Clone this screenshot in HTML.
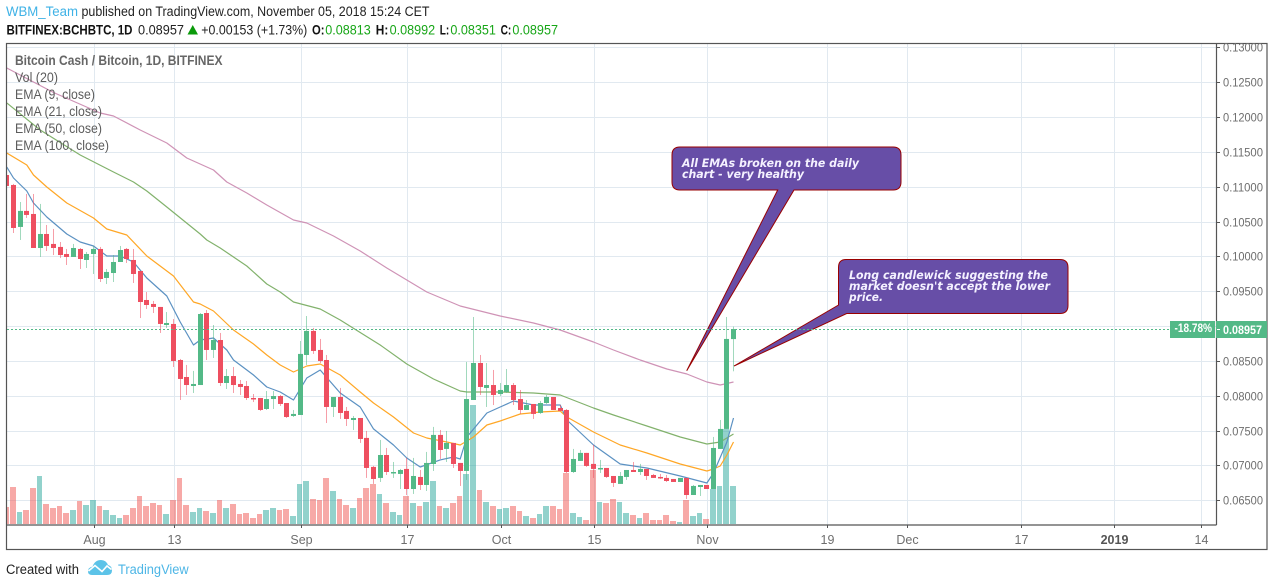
<!DOCTYPE html>
<html lang="en">
<head>
<meta charset="utf-8">
<title>BCHBTC daily chart</title>
<style>
html,body{margin:0;padding:0;background:#fff;overflow:hidden}
svg{display:block;font-family:"Liberation Sans",sans-serif}
</style>
</head>
<body>
<svg id="chart" width="1274" height="587" viewBox="0 0 1274 587" xmlns="http://www.w3.org/2000/svg">
  <defs><clipPath id="pane"><rect x="7" y="44" width="1209" height="481"/></clipPath></defs>
  <rect width="1274" height="587" fill="#fff"/>

  <g font-size="13.5">
    <text x="6" y="16" fill="#3fb2e6" textLength="72" lengthAdjust="spacingAndGlyphs">WBM_Team</text>
    <text x="81.5" y="16" fill="#222" textLength="348" lengthAdjust="spacingAndGlyphs">published on TradingView.com, November 05, 2018 15:24 CET</text>
    <text x="6.5" y="34.5" fill="#111" font-weight="bold" textLength="126" lengthAdjust="spacingAndGlyphs">BITFINEX:BCHBTC, 1D</text>
    <text x="138" y="34.5" fill="#222" textLength="46" lengthAdjust="spacingAndGlyphs">0.08957</text>
    <polygon points="187.5,34.5 198,34.5 192.75,25" fill="#0a9a0a"/>
    <text x="201.3" y="34.5" fill="#222" textLength="106" lengthAdjust="spacingAndGlyphs">+0.00153 (+1.73%)</text>
    <text x="312" y="34.5" fill="#111" font-weight="bold" textLength="12.5" lengthAdjust="spacingAndGlyphs">O:</text>
    <text x="325.3" y="34.5" fill="#17a617" textLength="45.5" lengthAdjust="spacingAndGlyphs">0.08813</text>
    <text x="375.8" y="34.5" fill="#111" font-weight="bold" textLength="12.5" lengthAdjust="spacingAndGlyphs">H:</text>
    <text x="389.6" y="34.5" fill="#17a617" textLength="45.5" lengthAdjust="spacingAndGlyphs">0.08992</text>
    <text x="439.7" y="34.5" fill="#111" font-weight="bold" textLength="9.5" lengthAdjust="spacingAndGlyphs">L:</text>
    <text x="450.4" y="34.5" fill="#17a617" textLength="45.5" lengthAdjust="spacingAndGlyphs">0.08351</text>
    <text x="500.6" y="34.5" fill="#111" font-weight="bold" textLength="10.7" lengthAdjust="spacingAndGlyphs">C:</text>
    <text x="512.4" y="34.5" fill="#17a617" textLength="45.6" lengthAdjust="spacingAndGlyphs">0.08957</text>
  </g>

  <g id="gridLayer"></g>
  <g id="plotLayer" clip-path="url(#pane)">
    <g id="volumeLayer"></g>
    <g id="emaLayer"></g>
    <g id="candleLayer"></g>
  </g>

  <g font-size="13.5" fill="#5c5c5c">
    <text x="15" y="65" font-weight="bold" fill="#666" textLength="207.5" lengthAdjust="spacingAndGlyphs">Bitcoin Cash / Bitcoin, 1D, BITFINEX</text>
    <text x="15" y="82" textLength="43" lengthAdjust="spacingAndGlyphs">Vol (20)</text>
    <text x="15" y="99" textLength="80" lengthAdjust="spacingAndGlyphs">EMA (9, close)</text>
    <text x="15" y="116" textLength="87" lengthAdjust="spacingAndGlyphs">EMA (21, close)</text>
    <text x="15" y="133" textLength="87" lengthAdjust="spacingAndGlyphs">EMA (50, close)</text>
    <text x="15" y="150" textLength="94" lengthAdjust="spacingAndGlyphs">EMA (100, close)</text>
  </g>

  <g>
    <path d="M680,147 H893 Q901,147 901,155 V182 Q901,190 893,190 H794 L686.7,370.7 L777.7,190 H680 Q672,190 672,182 V155 Q672,147 680,147 Z" fill="#674ea7" stroke="#990000" stroke-width="1"/>
    <g font-family="'DejaVu Sans','Liberation Sans',sans-serif" font-size="11.5" font-weight="bold" font-style="italic" fill="#f4f1ff">
      <text x="682" y="167" textLength="177" lengthAdjust="spacingAndGlyphs">All EMAs broken on the daily</text>
      <text x="682" y="178" textLength="122" lengthAdjust="spacingAndGlyphs">chart - very healthy</text>
    </g>
  </g>
  <g>
    <path d="M846,259.5 H1060 Q1068,259.5 1068,267.5 V305.5 Q1068,313.5 1060,313.5 H846.7 L734,366 L838.5,305 V267.5 Q838.5,259.5 846,259.5 Z" fill="#674ea7" stroke="#990000" stroke-width="1"/>
    <g font-family="'DejaVu Sans','Liberation Sans',sans-serif" font-size="11.5" font-weight="bold" font-style="italic" fill="#f4f1ff">
      <text x="849" y="279" textLength="199" lengthAdjust="spacingAndGlyphs">Long candlewick suggesting the</text>
      <text x="849" y="290" textLength="201" lengthAdjust="spacingAndGlyphs">market doesn't accept the lower</text>
      <text x="849" y="301" textLength="34" lengthAdjust="spacingAndGlyphs">price.</text>
    </g>
  </g>

  <line x1="7" y1="329.5" x2="1170" y2="329.5" stroke="#53b987" stroke-width="1" stroke-dasharray="2 2"/>

  <g fill="none" stroke="#555" stroke-width="1.2">
    <rect x="6.5" y="43.5" width="1260.5" height="506"/>
    <line x1="1216.5" y1="43.5" x2="1216.5" y2="525"/>
    <line x1="6.5" y1="525" x2="1216.5" y2="525"/>
  </g>

  <g id="axisLayer"></g>

  <g>
    <rect x="1170" y="321" width="45" height="17" fill="#53b987"/>
    <text x="1174.5" y="332" fill="#fff" font-size="11.5" font-weight="bold" textLength="37.5" lengthAdjust="spacingAndGlyphs">-18.78%</text>
    <rect x="1216" y="321" width="51" height="17" fill="#53b987"/>
    <line x1="1217" y1="329.5" x2="1220" y2="329.5" stroke="#fff"/>
    <text x="1223" y="334" fill="#fff" font-size="12" font-weight="bold" textLength="39" lengthAdjust="spacingAndGlyphs">0.08957</text>
  </g>

  <g>
    <text x="6" y="574" font-size="13.5" fill="#222" textLength="73" lengthAdjust="spacingAndGlyphs">Created with</text>
    <g>
      <path d="M88,571.5 Q88,567.5 92.5,566.5 Q95,560 101,560 Q106,560 108,565 Q112,566 112,570.5 Q112,575 107,575 H92 Q88,575 88,571.5 Z" fill="#5cc3e8"/>
      <polyline points="88.5,571 95,565.5 102,571.5 107,566 111.5,569.5" fill="none" stroke="#fff" stroke-width="1.6"/>
    </g>
    <text x="118" y="574" font-size="13.5" fill="#4db6e6" textLength="70.7" lengthAdjust="spacingAndGlyphs">TradingView</text>
  </g>
</svg>
<script>
// Values in 0.00001 BTC; index 0 = 19 Jul 2018 (firstDay, days relative to 1 Aug)
const firstDay = -13;
const opens = [11167,11024,10422,10652,10608,10120,10321,10178,10135,10034,9991,10106,9948,
10034,10106,9690,9761,9919,10106,9948,9790,9374,9317,9274,9015,9030,8513,8269,8140,8154,9187,8657,8800,8183,8283,8169,8140,7968,7968,7810,7953,7996,7896,7710,7724,8585,8930,8657,8513,7839,7982,7782,7652,7681,7395,6979,6821,7150,6892,6878,6950,6662,6835,6720,7021,7438,7237,7323,7036,6921,7939,8470,8112,8154,8025,8054,8154,7953,7796,7882,7753,7896,7982,7824,7796,6906,7065,7180,7022,6950,6964,6849,6735,6835,6935,6906,6950,6863,6835,6821,6806,6763,6821,6576,6691,6720,6662,7237,7524,8813];
const highs = [11196,11039,10780,10895,10895,10752,10450,10393,10206,10106,10178,10120,10063,
10149,10135,9819,10019,10149,10120,10106,9790,9488,9360,9274,9201,9101,8528,8442,8356,9187,9230,9015,8901,8384,8413,8226,8212,8025,7968,8068,8068,8011,7896,7796,8786,9144,8973,8815,8585,7982,8112,7839,7710,7681,7495,6993,7366,7251,7050,6950,7108,7108,6935,7194,7553,7509,7495,7323,7036,8485,9130,8585,8470,8370,8183,8384,8183,8083,7939,7882,7925,8011,7982,7867,7810,7237,7222,7180,7295,7079,6964,6849,6906,6935,7050,7022,6950,6878,6878,6863,6806,6821,6821,6720,6720,6720,7409,7652,9130,8992];
const lows = [10996,10335,10235,10551,10120,9991,10077,10019,9976,9876,9991,9819,9833,
9747,9632,9603,9632,9919,9905,9618,9115,9245,9187,8901,8973,8413,7939,8011,8040,8154,8513,8542,8140,8097,8040,8011,7939,7910,7782,7796,7810,7853,7681,7695,7724,8442,8600,8470,7609,7695,7667,7566,7509,7323,6821,6735,6763,6863,6821,6662,6576,6591,6648,6634,6921,7093,7050,6964,6706,6792,7939,8011,7839,7867,7996,8040,7867,7739,7796,7667,7739,7882,7796,7782,6892,6892,7065,6979,6821,6892,6821,6691,6735,6792,6906,6863,6792,6821,6806,6763,6763,6763,6519,6576,6562,6662,6662,7237,7524,8351];
const closes = [11010,10407,10652,10594,10120,10321,10149,10120,10019,9991,10120,9962,10034,
10106,9675,9776,9919,10091,9962,9747,9345,9302,9274,9030,9044,8499,8241,8154,8169,9173,8657,8800,8183,8283,8154,8126,7968,7947,7796,7953,7996,7882,7695,7739,8600,8930,8643,8499,7839,7982,7753,7667,7681,7380,6964,6806,7150,6906,6906,6935,6662,6849,6720,7036,7438,7222,7323,7021,6921,7953,8470,8126,8154,8011,8083,8154,7939,7796,7867,7739,7896,7982,7796,7782,6906,7093,7180,6993,6950,6964,6835,6749,6849,6935,6906,6950,6849,6821,6821,6777,6763,6821,6576,6706,6720,6662,7251,7524,8815,8957];
const volumes = [17,37,12,14,36,48,20,16,18,11,14,23,19,
24,18,14,9,6,9,16,28,18,21,19,10,24,46,19,12,16,13,11,24,16,20,10,11,6,10,14,16,14,15,8,40,43,25,24,46,33,25,19,16,26,36,40,30,21,12,9,28,21,18,22,43,18,16,21,28,50,119,34,22,18,15,16,18,13,8,6,10,18,18,15,51,11,7,4,54,22,21,25,22,11,9,6,11,4,4,9,3,2,24,8,11,5,35,38,95,38];

const ema9Days = [-13,-12,-10,-9,-7,-4,-2,0,2,4,6,8,11,13,15,16,18,20,21,24,26,28,30,32,34,37,40,42,45,47,49,52,54,55,56,59,61,63,66,70,71,75,79,83,88,92,93,95,96];
const ema9Values = [11282,11124,10938,10766,10565,10321,10206,10149,10005,10005,9919,9689,9431,9058,8728,8800,8829,8657,8513,8298,8126,8054,7939,8255,8370,8040,7839,7524,7294,7107,6978,7079,7121,7093,7408,7753,7839,7925,7867,7867,7652,7294,7021,6964,6849,6748,6892,7337,7681];
const ema21Days = [-13,-10,-9,-7,-4,0,2,5,8,12,15,16,18,21,24,26,28,30,32,34,37,40,42,45,48,50,53,55,56,57,59,61,64,67,70,71,75,79,83,88,92,93,94,95,96];
const ema21Values = [11483,11311,11167,10995,10766,10550,10392,10306,10005,9718,9345,9316,9216,8944,8743,8585,8441,8341,8427,8456,8298,8054,7896,7695,7466,7394,7337,7294,7351,7408,7580,7638,7738,7767,7781,7695,7480,7294,7179,7021,6920,6949,6992,7150,7337];
const ema50Days = [-13,-8,-2,3,6,8,11,16,17,19,23,26,28,30,34,37,43,47,51,55,56,61,66,70,75,78,83,88,92,94,96];
const ema50Values = [12200,11813,11454,11210,11067,10938,10708,10321,10235,10120,9862,9603,9489,9345,9245,9087,8728,8456,8241,8068,8054,8054,8040,8011,7824,7724,7566,7408,7308,7337,7451];
const ema100Days = [-13,-6,1,3,7,11,14,18,20,23,26,30,32,36,40,44,47,50,55,58,61,66,70,75,78,82,86,89,92,94,96];
const ema100Values = [12702,12351,12057,12014,11813,11626,11411,11239,11067,10909,10737,10522,10479,10292,10077,9833,9661,9489,9288,9216,9144,9044,8944,8771,8657,8513,8384,8312,8197,8154,8197];

const priceTicks = [6500,7000,7500,8000,8500,9000,9500,10000,10500,11000,11500,12000,12500,13000];
const timeTickDays = [0,12,31,47,61,75,92,110,122,139,153,166];
const timeTickLabels = ["Aug","13","Sep","17","Oct","15","Nov","19","Dec","17","2019","14"];

const NS = "http://www.w3.org/2000/svg";
function xAxis(day){ return 93.5 + day * 6.667; }
function yAxis(price){ return 500.3 - (price - 6500) / 500 * 34.85; }
function volAxis(v){ return 524 - v; }
function mk(tag, parent, attrs){
  const el = document.createElementNS(NS, tag);
  for (const k in attrs) el.setAttribute(k, attrs[k]);
  parent.appendChild(el);
  return el;
}
const gridLayer = document.getElementById("gridLayer");
const axisLayer = document.getElementById("axisLayer");
const volumeLayer = document.getElementById("volumeLayer");
const emaLayer = document.getElementById("emaLayer");
const candleLayer = document.getElementById("candleLayer");

priceTicks.forEach(function(p){
  const y = Math.round(yAxis(p)) + 0.5;
  const g = mk("line", gridLayer, {x1:7, y1:y, x2:1216, y2:y, stroke:"#e1e9f0", "stroke-width":1});
  
  
  const t = mk("line", axisLayer, {x1:1217, y1:y, x2:1220, y2:y, stroke:"#555"});
  
  
  const l = mk("text", axisLayer, {x:1223, y:y + 4, fill:"#6e6e6e", "font-size":12, textLength:40, lengthAdjust:"spacingAndGlyphs"});
  
  
  l.textContent = (p / 100000).toFixed(5);
});

timeTickDays.forEach(function(d, i){
  const x = Math.round(xAxis(d) + 0.5) + 0.5;
  const g = mk("line", gridLayer, {x1:x, y1:44, x2:x, y2:525, stroke:"#e1e9f0", "stroke-width":1});
  
  
  const t = mk("line", axisLayer, {x1:x, y1:525, x2:x, y2:528, stroke:"#555"});
  
  
  const attrs = {x:x, y:544, fill:"#6e6e6e", "font-size":12.5, "text-anchor":"middle"};
  if (timeTickLabels[i] === "2019") { attrs["font-weight"] = "bold"; attrs.fill = "#555"; }
  const l = mk("text", axisLayer, attrs);
  
  
  l.textContent = timeTickLabels[i];
});

volumes.forEach(function(v, i){
  const up = closes[i] >= opens[i];
  const xc = xAxis(firstDay + i);
  const left = Math.floor(xc - 3);
  const right = Math.floor(xAxis(firstDay + i + 1) - 3) - 1;
  const top = volAxis(v);
  const r = mk("rect", volumeLayer, {x:left, y:top, width:right - left, height:524 - top, fill: up ? "#26a69a" : "#ef5350", "fill-opacity":0.5});
  
  
});

function drawEma(days, values, color, name){
  const pts = days.map(function(d, i){ return xAxis(d).toFixed(1) + "," + yAxis(values[i]).toFixed(1); });
  const p = mk("polyline", emaLayer, {points:pts.join(" "), fill:"none", stroke:color, "stroke-width":1.2, "stroke-linejoin":"round"});
  
  
}
drawEma(ema100Days, ema100Values, "#cf93b6", "ema-100-line");
drawEma(ema50Days, ema50Values, "#82b26c", "ema-50-line");
drawEma(ema21Days, ema21Values, "#ffa726", "ema-21-line");
drawEma(ema9Days, ema9Values, "#5b91c2", "ema-9-line");

opens.forEach(function(o, i){
  const c = closes[i];
  const up = c >= o;
  const color = up ? "#53b987" : "#ee4f60";
  const left = Math.round(xAxis(firstDay + i) - 2.5);
  const hy = yAxis(highs[i]), ly = yAxis(lows[i]);
  const w = mk("rect", candleLayer, {x:left + 2, y:hy, width:1, height:Math.max(1, ly - hy), fill:color, "fill-opacity":0.55});
  
  
  const ty = yAxis(Math.max(o, c)), by = yAxis(Math.min(o, c));
  const b = mk("rect", candleLayer, {x:left, y:ty, width:5, height:Math.max(1.5, by - ty), fill:color});
  
  
});
</script>
</body>
</html>
